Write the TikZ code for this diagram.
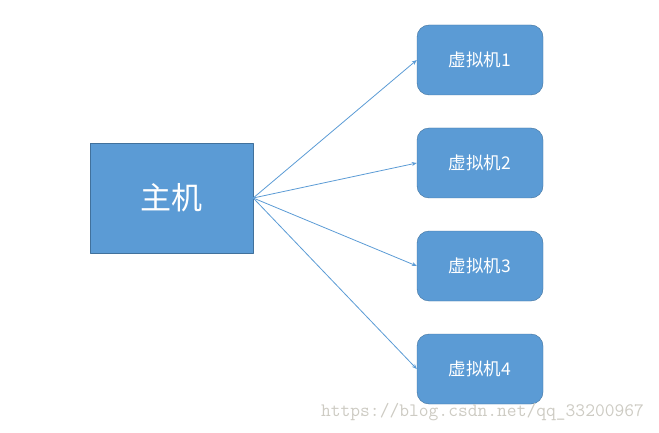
\documentclass[tikz,border=0pt]{standalone}
\usepackage{fontspec}
\newfontfamily\cjk{Noto Sans CJK SC}
\usetikzlibrary{arrows.meta}
\definecolor{boxblue}{RGB}{91,155,213}
\definecolor{boxedge}{RGB}{65,113,156}
\definecolor{markgray}{RGB}{205,203,195}
\begin{document}
\begin{tikzpicture}[x=1pt,y=-1pt, line join=round, >={Stealth[length=5pt,width=4pt]}]
	\tikzset{host/.style={draw=boxedge, fill=boxblue, minimum width=163pt, minimum height=110pt, inner sep=0pt, text=white, font=\cjk\fontsize{31}{31}\selectfont},
		vm/.style={draw=boxedge, fill=boxblue, rounded corners=12pt, minimum width=126pt, minimum height=70pt, inner sep=0pt, text=white, font=\cjk\fontsize{17.5}{17.5}\selectfont},
		link/.style={->, draw=boxblue, line width=0.8pt}}
	\useasboundingbox (0,0) rectangle (659,433);
	\node[host] (host) at (171.5,198) {主机};
	\node[vm] (vm1) at (480,60) {虚拟机1};
	\node[vm] (vm2) at (480,163) {虚拟机2};
	\node[vm] (vm3) at (480,266) {虚拟机3};
	\node[vm] (vm4) at (480,369) {虚拟机4};
	\draw[link] (host.east)--(vm1.west) ;
	\draw[link] (host.east)--(vm2.west) ;
	\draw[link] (host.east)--(vm3.west) ;
	\draw[link] (host.east)--(vm4.west) ;
	\node[text=markgray, font=\ttfamily\fontsize{19}{19}\selectfont, inner sep=0pt] (mark) at (482.5,412) {https://blog.csdn.net/qq\_33200967};
\end{tikzpicture}
\end{document}
